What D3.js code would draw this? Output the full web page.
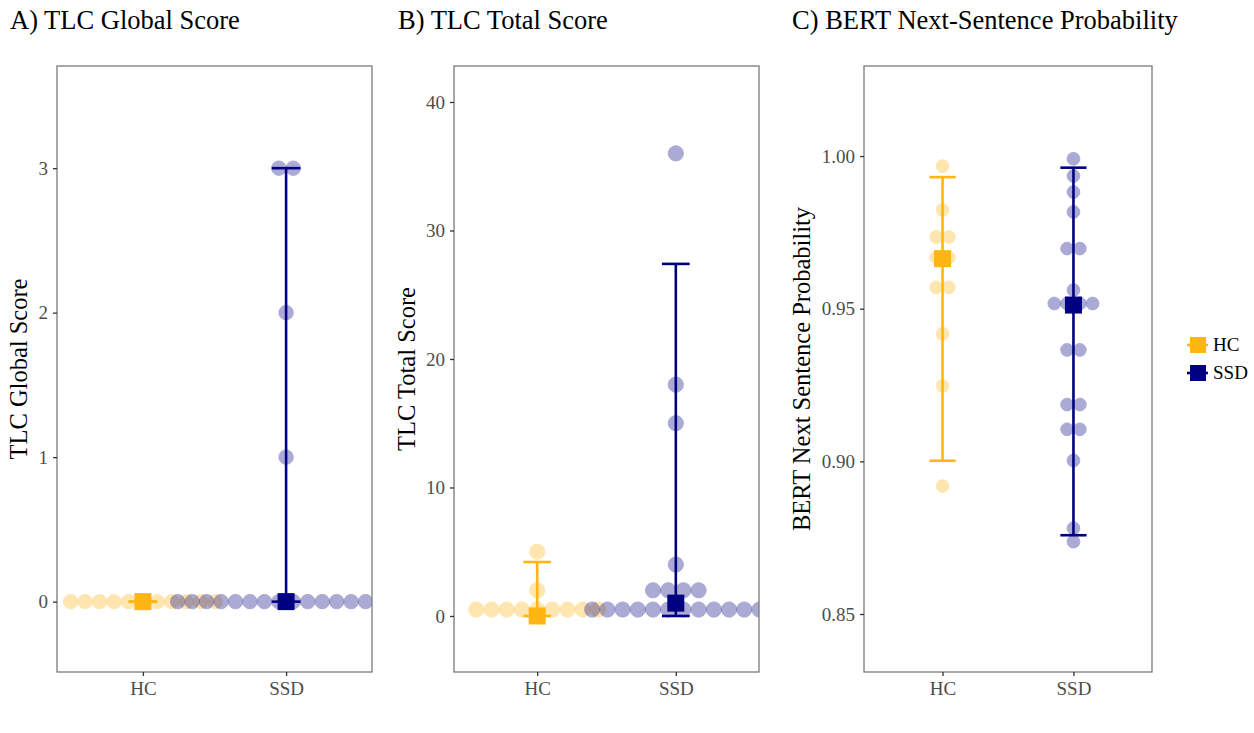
<!DOCTYPE html>
<html>
<head>
<meta charset="utf-8">
<script src="https://cdn.jsdelivr.net/npm/d3@7"></script>
<style>
  body { margin: 0; background: #fff; }
  text { font-family: "Liberation Serif", "Times New Roman", serif; }
</style>
</head>
<body>
<svg id="chart" width="1254" height="733"></svg>
<script>
// groups and colours
const groups = ["HC", "SSD"];
const groupColors = ["#FFB612", "#000080"];

// A) TLC Global Score (dot values, then summary per group)
const globalHC = [0, 0, 0, 0, 0, 0, 0, 0, 0, 0, 0];
const globalSSD = [0, 0, 0, 0, 0, 0, 0, 0, 0, 0, 0, 0, 0, 0, 0, 0, 1, 2, 3, 3];
const globalMid = [0, 0];
const globalLow = [0, 0];
const globalHigh = [0, 3];
const globalTicks = [0, 1, 2, 3];

// B) TLC Total Score
const totalHC = [0.5, 0.5, 0.5, 0.5, 0.5, 0.5, 0.5, 0.5, 0.5, 2, 5];
const totalSSD = [0.5, 0.5, 0.5, 0.5, 0.5, 0.5, 0.5, 0.5, 0.5, 0.5, 0.5, 0.5,
                  2, 2, 2, 2, 4, 15, 18, 36];
const totalMid = [0, 1];
const totalLow = [0, 0];
const totalHigh = [4.2, 27.4];
const totalTicks = [0, 10, 20, 30, 40];

// C) BERT Next-Sentence Probability
const bertHC = [0.9967, 0.9823, 0.9735, 0.9735, 0.9668, 0.9668, 0.957, 0.957,
                0.9418, 0.9247, 0.8919];
const bertSSD = [0.9991, 0.9935, 0.9882, 0.9817, 0.9697, 0.9697, 0.9561,
                 0.9517, 0.9517, 0.9517, 0.9517, 0.9365, 0.9365, 0.9186, 0.9186,
                 0.9105, 0.9105, 0.9003, 0.8781, 0.8737];
const bertMid = [0.9664, 0.9512];
const bertLow = [0.9002, 0.8758];
const bertHigh = [0.9931, 0.9962];
const bertTicks = [0.85, 0.90, 0.95, 1.00];

var panels = [
  {title: "A) TLC Global Score", ylab: "TLC Global Score",
   values: [globalHC, globalSSD], mid: globalMid, low: globalLow, high: globalHigh,
   ticks: globalTicks, fmt: d3.format("d"),
   x0: 57, x1: 372, domain: [-0.487, 3.707], titleX: 10, ylabX: 27},
  {title: "B) TLC Total Score", ylab: "TLC Total Score",
   values: [totalHC, totalSSD], mid: totalMid, low: totalLow, high: totalHigh,
   ticks: totalTicks, fmt: d3.format("d"),
   x0: 454, x1: 759, domain: [-4.36, 42.8], titleX: 398, ylabX: 415},
  {title: "C) BERT Next-Sentence Probability", ylab: "BERT Next Sentence Probability",
   values: [bertHC, bertSSD], mid: bertMid, low: bertLow, high: bertHigh,
   ticks: bertTicks, fmt: d3.format(".2f"),
   x0: 864, x1: 1152, domain: [0.831, 1.0295], titleX: 792, ylabX: 810}
];

var plotTop = 66, plotBottom = 672;
var svg = d3.select("#chart");

panels.forEach(function(p, pi) {
  var x = d3.scalePoint().domain(groups).range([p.x0, p.x1]).padding(0.6);
  var y = d3.scaleLinear().domain(p.domain).range([plotBottom, plotTop]);
  var step = x.step();

  // title
  svg.append("text")
    .attr("x", p.titleX).attr("y", 29)
    .attr("font-size", 26.5).attr("fill", "#000")
    .text(p.title);

  // y axis title
  svg.append("text")
    .attr("transform", "translate(" + p.ylabX + "," + ((plotTop + plotBottom) / 2) + ") rotate(-90)")
    .attr("text-anchor", "middle")
    .attr("font-size", 24.5).attr("fill", "#000")
    .text(p.ylab);

  // clip for the panel
  var clipId = "clip" + pi;
  svg.append("clipPath").attr("id", clipId)
    .append("rect")
    .attr("x", p.x0).attr("y", plotTop)
    .attr("width", p.x1 - p.x0).attr("height", plotBottom - plotTop);

  var g = svg.append("g").attr("clip-path", "url(#" + clipId + ")");

  // dotplot: binwidth = range / 30 like ggplot default
  var all = p.values[0].concat(p.values[1]);
  var binwidth = (d3.max(all) - d3.min(all)) / 30;
  var diam = Math.abs(y(binwidth) - y(0));

  groups.forEach(function(grp, gi) {
    var counts = d3.rollup(p.values[gi], function(v) { return v.length; }, function(d) { return d; });
    var dots = [];
    counts.forEach(function(n, val) {
      for (var i = 0; i < n; i++) {
        dots.push({v: val, off: (i - (n - 1) / 2) * diam});
      }
    });
    g.append("g")
      .selectAll("circle")
      .data(dots)
      .enter().append("circle")
      .attr("cx", function(d) { return x(grp) + d.off; })
      .attr("cy", function(d) { return y(d.v); })
      .attr("r", diam / 2)
      .attr("fill", groupColors[gi])
      .attr("stroke", groupColors[gi])
      .attr("stroke-width", 1)
      .attr("opacity", 0.33);
  });

  // error bars
  groups.forEach(function(grp, gi) {
    var cx = x(grp), half = step * 0.1;
    var eb = g.append("g").attr("stroke", groupColors[gi]).attr("stroke-width", 2.6);
    eb.append("line")
      .attr("x1", cx).attr("x2", cx)
      .attr("y1", y(p.low[gi])).attr("y2", y(p.high[gi]));
    eb.append("line")
      .attr("x1", cx - half).attr("x2", cx + half)
      .attr("y1", y(p.low[gi])).attr("y2", y(p.low[gi]));
    eb.append("line")
      .attr("x1", cx - half).attr("x2", cx + half)
      .attr("y1", y(p.high[gi])).attr("y2", y(p.high[gi]));
  });

  // centre squares
  g.selectAll("rect.mid")
    .data(groups)
    .enter().append("rect")
    .attr("class", "mid")
    .attr("x", function(d) { return x(d) - 8.5; })
    .attr("y", function(d, i) { return y(p.mid[i]) - 8.5; })
    .attr("width", 17).attr("height", 17)
    .attr("fill", function(d, i) { return groupColors[i]; });

  // panel border
  svg.append("rect")
    .attr("x", p.x0).attr("y", plotTop)
    .attr("width", p.x1 - p.x0).attr("height", plotBottom - plotTop)
    .attr("fill", "none").attr("stroke", "#7a7a7a").attr("stroke-width", 1.3);

  // axes
  var yAxis = d3.axisLeft(y).tickValues(p.ticks).tickFormat(p.fmt).tickSize(4).tickPadding(5);
  var ya = svg.append("g").attr("transform", "translate(" + p.x0 + ",0)").call(yAxis);
  var xAxis = d3.axisBottom(x).tickSize(4).tickPadding(6);
  var xa = svg.append("g").attr("transform", "translate(0," + plotBottom + ")").call(xAxis);

  [ya, xa].forEach(function(a) {
    a.select(".domain").remove();
    a.selectAll("line").attr("stroke", "#333").attr("stroke-width", 1.3);
    a.selectAll("text")
      .attr("fill", "#4d4d4d")
      .attr("font-size", 19)
      .attr("font-family", "Liberation Serif, Times New Roman, serif");
  });
});

// legend
var legend = svg.append("g");
groups.forEach(function(grp, gi) {
  var ly = 345 + gi * 28;
  legend.append("line")
    .attr("x1", 1187).attr("x2", 1208)
    .attr("y1", ly).attr("y2", ly)
    .attr("stroke", groupColors[gi]).attr("stroke-width", 2.6);
  legend.append("rect")
    .attr("x", 1190).attr("y", ly - 8)
    .attr("width", 16).attr("height", 16)
    .attr("fill", groupColors[gi]);
  legend.append("text")
    .attr("x", 1213).attr("y", ly + 6)
    .attr("font-size", 19).attr("fill", "#000")
    .text(grp);
});
</script>
</body>
</html>
